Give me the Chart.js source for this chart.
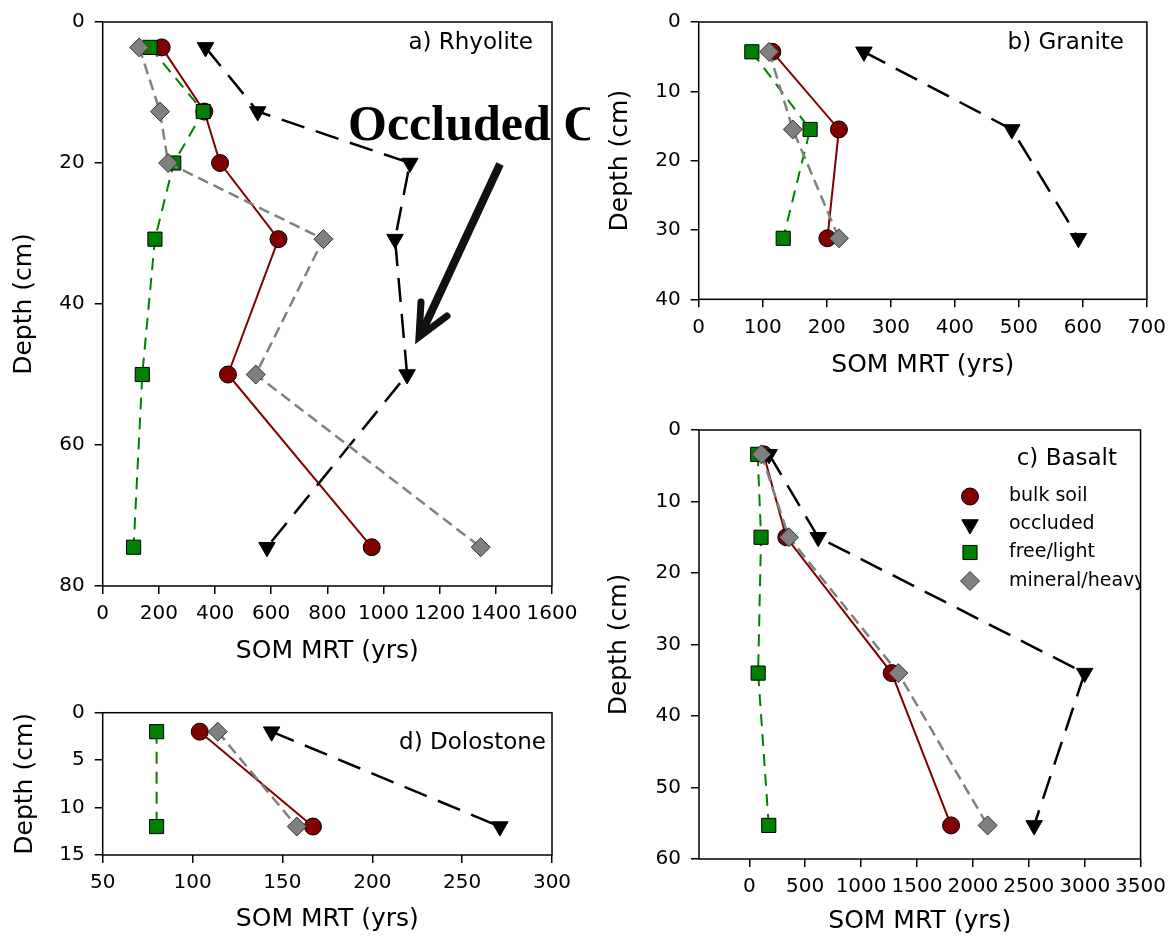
<!DOCTYPE html>
<html>
<head>
<meta charset="utf-8">
<script src="https://cdn.jsdelivr.net/npm/chart.js@4.4.1/dist/chart.umd.min.js"></script>
<style>
  body { margin: 0; background: #fff; }
  #wrap { position: relative; width: 1174px; height: 940px; overflow: hidden; }
  canvas { position: absolute; }
</style>
</head>
<body>
<div id="wrap">
  <canvas id="panelA" width="590" height="680" style="left:0px;top:0px"></canvas>
  <canvas id="panelD" width="590" height="250" style="left:0px;top:690px"></canvas>
  <canvas id="panelB" width="584" height="400" style="left:590px;top:0px"></canvas>
  <canvas id="panelC" width="584" height="540" style="left:590px;top:400px"></canvas>
</div>
<script>
// a) Rhyolite
const rhyDepth = [3.6, 12.7, 20, 30.8, 50, 74.5];
const rhyBulk = [210, 362, 418, 626, 446, 958];
const rhyOccluded = [366, 552, 1094, 1041, 1084, 585];
const rhyFree = [169, 358, 253, 186, 141, 110];
const rhyMineral = [130, 204, 233, 786, 545, 1346];
const rhyXTicks = [0, 200, 400, 600, 800, 1000, 1200, 1400, 1600];
const rhyYTicks = [0, 20, 40, 60, 80];

// b) Granite
const graDepth = [4.3, 15.5, 31.2];
const graBulk = [115, 219, 201];
const graOccluded = [258, 489, 593];
const graFree = [83, 174, 132];
const graMineral = [110, 147, 219];
const graXTicks = [0, 100, 200, 300, 400, 500, 600, 700];
const graYTicks = [0, 10, 20, 30, 40];

// c) Basalt
const basDepth = [3.4, 15, 34, 55.3];
const basBulk = [128, 331, 1274, 1805];
const basOccluded = [177, 616, 3000, 2548];
const basFree = [75, 105, 79, 174];
const basMineral = [108, 354, 1333, 2132];
const basXTicks = [0, 500, 1000, 1500, 2000, 2500, 3000, 3500];
const basYTicks = [0, 10, 20, 30, 40, 50, 60];

// d) Dolostone
const dolDepth = [2, 12];
const dolBulk = [104, 167];
const dolOccluded = [144, 271];
const dolFree = [80, 80];
const dolMineral = [114, 158];
const dolXTicks = [50, 100, 150, 200, 250, 300];
const dolYTicks = [0, 5, 10, 15];

const seriesNames = ["bulk soil", "occluded", "free/light", "mineral/heavy"];

const styles = [
  { line: "#800000", fill: "#800000", edge: "#000", shape: "circle", r: 8.5, w: 2, dash: [], rot: 0 },
  { line: "#000000", fill: "#000000", edge: "#000", shape: "triangle", r: 9.5, w: 2.5, dash: [24, 12], rot: 180 },
  { line: "#008000", fill: "#008000", edge: "#000", shape: "rect", r: 10, w: 2, dash: [12, 8], rot: 0 },
  { line: "#808080", fill: "#808080", edge: "#333", shape: "rectRot", r: 9.5, w: 2.5, dash: [11, 6], rot: 0 }
];

function makeSets(depth, cols) {
  return cols.map((vals, i) => {
    const s = styles[i];
    return {
      label: seriesNames[i],
      data: vals.map((v, k) => ({ x: v, y: depth[k] })),
      showLine: true,
      borderColor: s.line,
      borderWidth: s.w,
      borderDash: s.dash,
      pointStyle: s.shape,
      pointRadius: s.r,
      pointRotation: s.rot,
      pointBackgroundColor: s.fill,
      pointBorderColor: s.edge,
      pointBorderWidth: 1,
      order: 4 - i
    };
  });
}

const tickFont = { family: "DejaVu Sans", size: 20 };
const titleFont = { family: "DejaVu Sans", size: 25 };
const gridOpts = { drawOnChartArea: false, drawTicks: true, tickLength: 8, color: "#000", lineWidth: 1.5 };

function axes(o) {
  return {
    x: {
      type: "linear", position: "bottom", min: o.xmin, max: o.xmax,
      ticks: { color: "#000", font: tickFont, padding: 8, autoSkip: false, maxRotation: 0, callback: (v) => String(v) },
      grid: gridOpts,
      border: { display: false },
      title: { display: true, text: "SOM MRT (yrs)", color: "#000", font: titleFont, padding: { top: 0, bottom: o.xtp } },
      afterFit: (s) => { s.height = o.xh; },
      afterBuildTicks: (s) => { s.ticks = o.xticks.map((v) => ({ value: v })); }
    },
    y: {
      type: "linear", position: "left", reverse: true, min: o.yticks[0], max: o.yticks[o.yticks.length - 1],
      ticks: { color: "#000", font: tickFont, padding: 10, callback: (v) => String(v) },
      grid: gridOpts,
      border: { display: false },
      title: { display: true, text: "Depth (cm)", color: "#000", font: titleFont, padding: { top: o.ytp, bottom: 0 } },
      afterFit: (s) => { s.width = o.yw; },
      afterBuildTicks: (s) => { s.ticks = o.yticks.map((v) => ({ value: v })); }
    }
  };
}

// frame box + panel label
const frame = {
  id: "frame",
  afterDraw(chart, args, opts) {
    const { ctx, chartArea: a } = chart;
    ctx.save();
    ctx.strokeStyle = "#000";
    ctx.lineWidth = 1.5;
    ctx.strokeRect(a.left, a.top, a.right - a.left, a.bottom - a.top);
    ctx.font = '23px "DejaVu Sans"';
    ctx.fillStyle = "#000";
    ctx.textAlign = "right";
    ctx.textBaseline = "middle";
    ctx.fillText(opts.label, opts.lx, opts.ly);
    ctx.restore();
  }
};

function marker(ctx, s, x, y) {
  ctx.beginPath();
  const r = s.r;
  if (s.shape === "circle") {
    ctx.arc(x, y, r, 0, Math.PI * 2);
  } else if (s.shape === "triangle") {
    ctx.moveTo(x, y + r);
    ctx.lineTo(x - r * 0.866, y - r / 2);
    ctx.lineTo(x + r * 0.866, y - r / 2);
    ctx.closePath();
  } else if (s.shape === "rect") {
    const h = r * Math.SQRT1_2;
    ctx.rect(x - h, y - h, 2 * h, 2 * h);
  } else {
    ctx.moveTo(x - r, y); ctx.lineTo(x, y - r); ctx.lineTo(x + r, y); ctx.lineTo(x, y + r);
    ctx.closePath();
  }
  ctx.fillStyle = s.fill;
  ctx.fill();
  ctx.strokeStyle = s.edge;
  ctx.lineWidth = 1;
  ctx.stroke();
}

const legendBox = {
  id: "legendBox",
  afterDatasetsDraw(chart, args, opts) {
    if (!opts.show) return;
    const { ctx, chartArea: a } = chart;
    ctx.save();
    ctx.beginPath();
    ctx.rect(a.left, a.top, a.right - a.left, a.bottom - a.top);
    ctx.clip();
    ctx.font = '19px "DejaVu Sans"';
    ctx.textAlign = "left";
    ctx.textBaseline = "middle";
    const rows = [96.5, 124.5, 152.5, 181];
    seriesNames.forEach((name, i) => {
      marker(ctx, styles[i], 380, rows[i]);
      ctx.fillStyle = "#000";
      ctx.fillText(name, 419, rows[i]);
    });
    ctx.restore();
  }
};

const callout = {
  id: "callout",
  afterDraw(chart, args, opts) {
    if (!opts.show) return;
    const ctx = chart.ctx;
    ctx.save();
    ctx.fillStyle = "#000";
    ctx.font = 'bold 50px "Liberation Serif"';
    ctx.textAlign = "left";
    ctx.textBaseline = "alphabetic";
    ctx.fillText("Occluded C", 348, 140);
    ctx.strokeStyle = "#111";
    ctx.lineWidth = 8;
    ctx.lineCap = "butt";
    ctx.beginPath();
    ctx.moveTo(500, 164);
    ctx.lineTo(421, 334);
    ctx.stroke();
    ctx.lineCap = "round";
    ctx.lineWidth = 7;
    ctx.beginPath();
    ctx.moveTo(421, 302);
    ctx.lineTo(419, 337);
    ctx.lineTo(447, 316);
    ctx.stroke();
    ctx.restore();
  }
};

function panel(id, sets, ax, pad, lab, extra) {
  new Chart(document.getElementById(id), {
    type: "scatter",
    data: { datasets: sets },
    options: {
      responsive: false,
      animation: false,
      events: [],
      layout: { padding: pad },
      scales: axes(ax),
      plugins: {
        legend: { display: false },
        tooltip: { enabled: false },
        frame: lab,
        legendBox: { show: !!(extra && extra.legend) },
        callout: { show: !!(extra && extra.callout) }
      }
    },
    plugins: [frame, legendBox, callout]
  });
}

panel("panelA",
  makeSets(rhyDepth, [rhyBulk, rhyOccluded, rhyFree, rhyMineral]),
  { xmin: 0, xmax: 1600, xticks: rhyXTicks, yticks: rhyYTicks, xh: 94, yw: 102.7, xtp: 13.3, ytp: 9.5 },
  { left: 0, top: 13.3, right: 38, bottom: 0 },
  { label: "a) Rhyolite", lx: 533, ly: 43 },
  { callout: true });

panel("panelB",
  makeSets(graDepth, [graBulk, graOccluded, graFree, graMineral]),
  { xmin: 0, xmax: 700, xticks: graXTicks, yticks: graYTicks, xh: 100.7, yw: 108.7, xtp: 20, ytp: 15 },
  { left: 0, top: 13.3, right: 26.3, bottom: 0 },
  { label: "b) Granite", lx: 534, ly: 43 });

panel("panelC",
  makeSets(basDepth, [basBulk, basOccluded, basFree, basMineral]),
  { xmin: -450, xmax: 3500, xticks: basXTicks, yticks: basYTicks, xh: 81, yw: 109, xtp: 4, ytp: 14 },
  { left: 0, top: 30, right: 26.3, bottom: 0 },
  { label: "c) Basalt", lx: 527, ly: 59 },
  { legend: true });

panel("panelD",
  makeSets(dolDepth, [dolBulk, dolOccluded, dolFree, dolMineral]),
  { xmin: 50, xmax: 300, xticks: dolXTicks, yticks: dolYTicks, xh: 85, yw: 102.7, xtp: 6, ytp: 10.4 },
  { left: 0, top: 22.7, right: 38, bottom: 0 },
  { label: "d) Dolostone", lx: 546, ly: 53 });
</script>
</body>
</html>
